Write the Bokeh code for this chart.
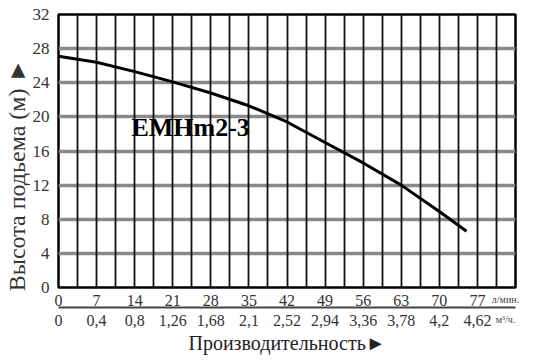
from bokeh.plotting import figure
from bokeh.models import LinearAxis, FixedTicker, Grid, Label, Range1d
from bokeh.embed import file_html
from bokeh.resources import INLINE

# Data
flow_lmin = [0, 7, 14, 21, 28, 35, 42, 49, 56, 63, 70, 75]
head_m = [27.1, 26.4, 25.3, 24.1, 22.8, 21.3, 19.4, 17.0, 14.6, 12.0, 8.9, 6.6]

x_ticks = [0, 7, 14, 21, 28, 35, 42, 49, 56, 63, 70, 77]
m3h_labels = ["0", "0,4", "0,8", "1,26", "1,68", "2,1", "2,52", "2,94", "3,36", "3,78", "4,2", "4,62"]
y_ticks = [0, 4, 8, 12, 16, 20, 24, 28, 32]

model_name = "EMHm2-3"
y_title = "Высота подьема (м) \u25BA"
x_title = "Производительность\u25BA"
unit_lmin = "л/мин."
unit_m3h = "м³/ч."

FONT = "Liberation Serif"
PAD = "\u2003\u2003"
UPAD = "\u2003\u2003"

p = figure(width=544, height=362, output_backend="svg", toolbar_location=None,
           x_axis_type=None, y_axis_type=None,
           x_range=Range1d(0, 84), y_range=Range1d(0, 32),
           frame_width=457, frame_height=273,
           min_border_left=55, min_border_right=32, min_border_top=14, min_border_bottom=75)
p.background_fill_color = "white"
p.border_fill_color = "white"
p.outline_line_color = "black"
p.outline_line_width = 2.5

# grids
vgrid = Grid(dimension=0, ticker=FixedTicker(ticks=[3.5 * i for i in range(1, 24)]),
             grid_line_color="#111111", grid_line_width=1.8)
hgrid = Grid(dimension=1, ticker=FixedTicker(ticks=y_ticks[1:-1]),
             grid_line_color="#8a8a8a", grid_line_width=3.5)
p.add_layout(hgrid, "center")
p.add_layout(vgrid, "center")


def style_axis(ax, size):
    ax.major_tick_line_color = None
    ax.minor_tick_line_color = None
    ax.major_label_text_font = FONT
    ax.major_label_text_font_size = size
    ax.major_label_text_color = "#333333"
    ax.axis_label_text_font = FONT
    ax.axis_label_text_font_style = "normal"


# y axis
yax = LinearAxis(ticker=FixedTicker(ticks=y_ticks), axis_label=y_title + PAD)
style_axis(yax, "17px")
yax.axis_line_color = None
yax.major_label_standoff = 3
yax.axis_label_text_font_size = "24px"
yax.axis_label_text_color = "#333333"
yax.axis_label_standoff = 0
p.add_layout(yax, "left")

# x axis, l/min (unit as right-aligned axis label pulled up into the tick row)
xax1 = LinearAxis(ticker=FixedTicker(ticks=x_ticks), axis_label=unit_lmin + UPAD)
style_axis(xax1, "16px")
xax1.axis_line_color = None
xax1.major_label_standoff = 1
xax1.axis_label_text_font_size = "10px"
xax1.axis_label_text_color = "#444444"
xax1.axis_label_align = "end"
xax1.axis_label_standoff = -15
p.add_layout(xax1, "below")

# x axis, m3/h
xax2 = LinearAxis(ticker=FixedTicker(ticks=x_ticks),
                  major_label_overrides={t: s for t, s in zip(x_ticks, m3h_labels)},
                  axis_label=unit_m3h + UPAD)
style_axis(xax2, "16px")
xax2.axis_line_color = "#444444"
xax2.axis_line_width = 2
xax2.major_label_standoff = 1
xax2.axis_label_text_font_size = "10px"
xax2.axis_label_text_color = "#444444"
xax2.axis_label_align = "end"
xax2.axis_label_standoff = -15
p.add_layout(xax2, "below")

# x axis title
xax3 = LinearAxis(ticker=FixedTicker(ticks=[]), axis_label=x_title)
style_axis(xax3, "16px")
xax3.axis_line_color = None
xax3.axis_label_text_font_size = "20px"
xax3.axis_label_text_color = "#222222"
xax3.axis_label_standoff = 4
p.add_layout(xax3, "below")

# curve
p.line(flow_lmin, head_m, line_color="black", line_width=3)

# model label
p.add_layout(Label(x=13.4, y=17.0, text=model_name, text_font=FONT, text_font_size="26px",
                   text_font_style="bold", text_color="black"))

open("out.html", "w").write(file_html(p, INLINE))
